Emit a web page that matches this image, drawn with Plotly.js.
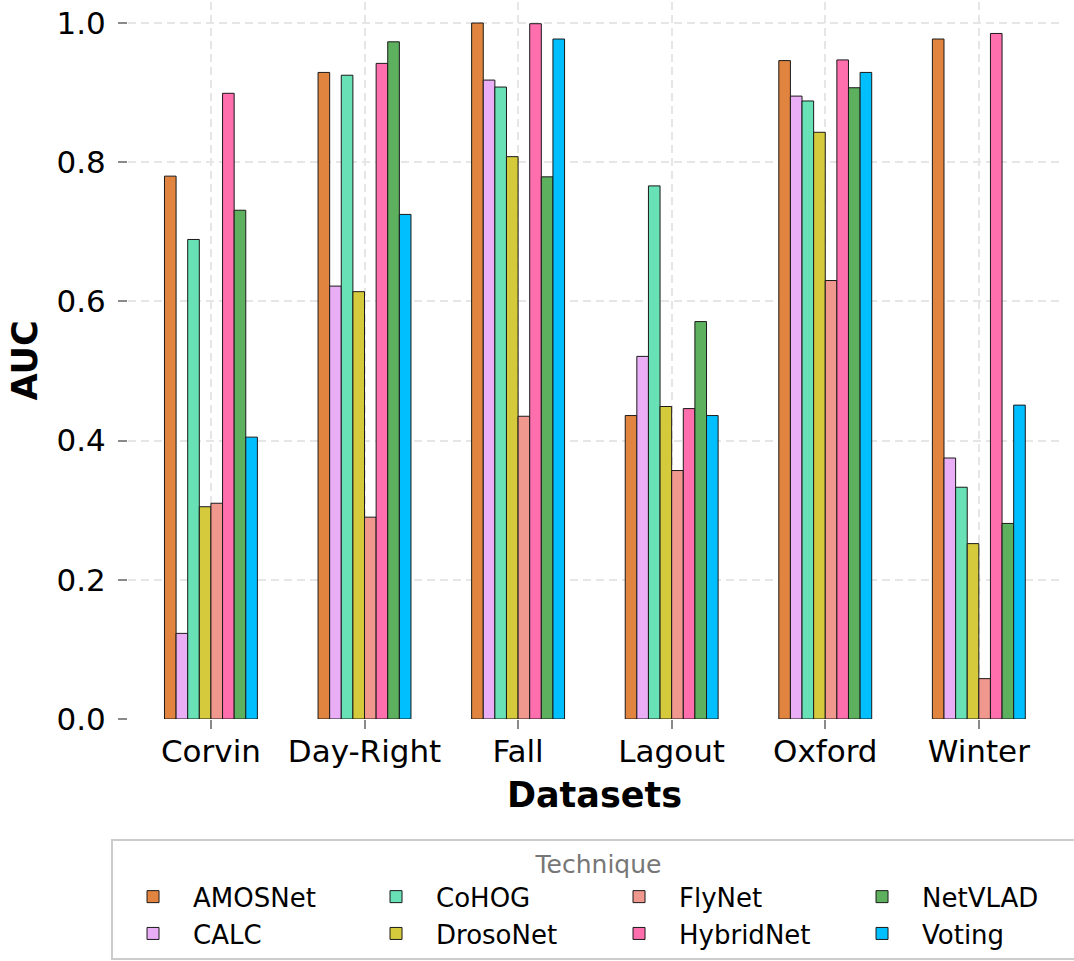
<!DOCTYPE html>
<html>
<head>
<meta charset="utf-8">
<script src="https://cdn.plot.ly/plotly-3.0.1.min.js"></script>
<style>html,body{margin:0;padding:0;background:#fff;}#chart{width:1074px;height:961px;}</style>
</head>
<body>
<div id="chart"></div>
<script>
const datasets = ["Corvin", "Day-Right", "Fall", "Lagout", "Oxford", "Winter"];
const techniques = ["AMOSNet", "CALC", "CoHOG", "DrosoNet", "FlyNet", "HybridNet", "NetVLAD", "Voting"];
const colors = ["#E1843F", "#E9AEF6", "#68E1B6", "#D5CA3B", "#F0978E", "#FF6FAE", "#5DB05E", "#00BFFF"];

const AMOSNet   = [0.780, 0.929, 1.000, 0.436, 0.946, 0.977];
const CALC      = [0.123, 0.622, 0.918, 0.521, 0.895, 0.375];
const CoHOG     = [0.689, 0.925, 0.908, 0.766, 0.888, 0.333];
const DrosoNet  = [0.305, 0.614, 0.808, 0.449, 0.843, 0.252];
const FlyNet    = [0.310, 0.290, 0.435, 0.357, 0.630, 0.058];
const HybridNet = [0.899, 0.942, 0.999, 0.446, 0.947, 0.985];
const NetVLAD   = [0.731, 0.973, 0.779, 0.571, 0.907, 0.281];
const Voting    = [0.405, 0.725, 0.977, 0.436, 0.929, 0.451];

const series = [AMOSNet, CALC, CoHOG, DrosoNet, FlyNet, HybridNet, NetVLAD, Voting];
// legend is filled row-wise in Plotly; reference fills column-wise (2 rows x 4 cols)
const legendRanks = [1, 5, 2, 6, 3, 7, 4, 8];

const traces = techniques.map((name, i) => ({
  type: "bar",
  name: name,
  x: datasets,
  y: series[i],
  legendrank: legendRanks[i],
  marker: {color: colors[i], line: {color: "#1a1a1a", width: 1}},
  hoverinfo: "x+y+name"
}));

const font = "DejaVu Sans, Verdana, sans-serif";

const layout = {
  width: 1074,
  height: 961,
  margin: {l: 128, r: 13, t: 2, b: 242, autoexpand: false},
  paper_bgcolor: "#ffffff",
  plot_bgcolor: "#ffffff",
  font: {family: font, color: "#000"},
  barmode: "group",
  bargap: 0.395,
  bargroupgap: 0,
  xaxis: {
    type: "category",
    range: [-0.54, 5.535],
    showgrid: true,
    gridcolor: "#e6e6e6",
    gridwidth: 1.5,
    griddash: "8px,5px",
    showline: false,
    zeroline: false,
    ticks: "outside",
    ticklen: 9,
    tickwidth: 1.5,
    tickcolor: "#8a8a8a",
    ticklabelstandoff: -4,
    tickfont: {family: font, size: 31, color: "#000"},
    title: {text: "<b>Datasets</b>", font: {family: font, size: 35, color: "#000"}, standoff: 14}
  },
  yaxis: {
    range: [0, 1.0302],
    tickvals: [0, 0.2, 0.4, 0.6, 0.8, 1.0],
    ticktext: ["0.0", "0.2", "0.4", "0.6", "0.8", "1.0"],
    showgrid: true,
    gridcolor: "#e6e6e6",
    gridwidth: 1.5,
    griddash: "8px,5px",
    showline: false,
    zeroline: false,
    ticks: "outside",
    ticklen: 9,
    tickwidth: 1.5,
    tickcolor: "#8a8a8a",
    ticklabelstandoff: 6,
    tickfont: {family: font, size: 31, color: "#000"},
    title: {text: "<b>AUC</b>", font: {family: font, size: 35, color: "#000"}, standoff: 8}
  },
  legend: {
    orientation: "h",
    x: -0.0182,
    xanchor: "left",
    y: -0.167,
    yanchor: "top",
    itemwidth: 70,
    entrywidth: 158,
    bgcolor: "#ffffff",
    bordercolor: "#cccccc",
    borderwidth: 2,
    font: {family: font, size: 26, color: "#000"},
    title: {text: "Technique", side: "top center", font: {family: font, size: 25, color: "#777777"}},
    traceorder: "normal"
  },
  showlegend: true
};

Plotly.newPlot("chart", traces, layout, {displayModeBar: false, responsive: false});
</script>
</body>
</html>
